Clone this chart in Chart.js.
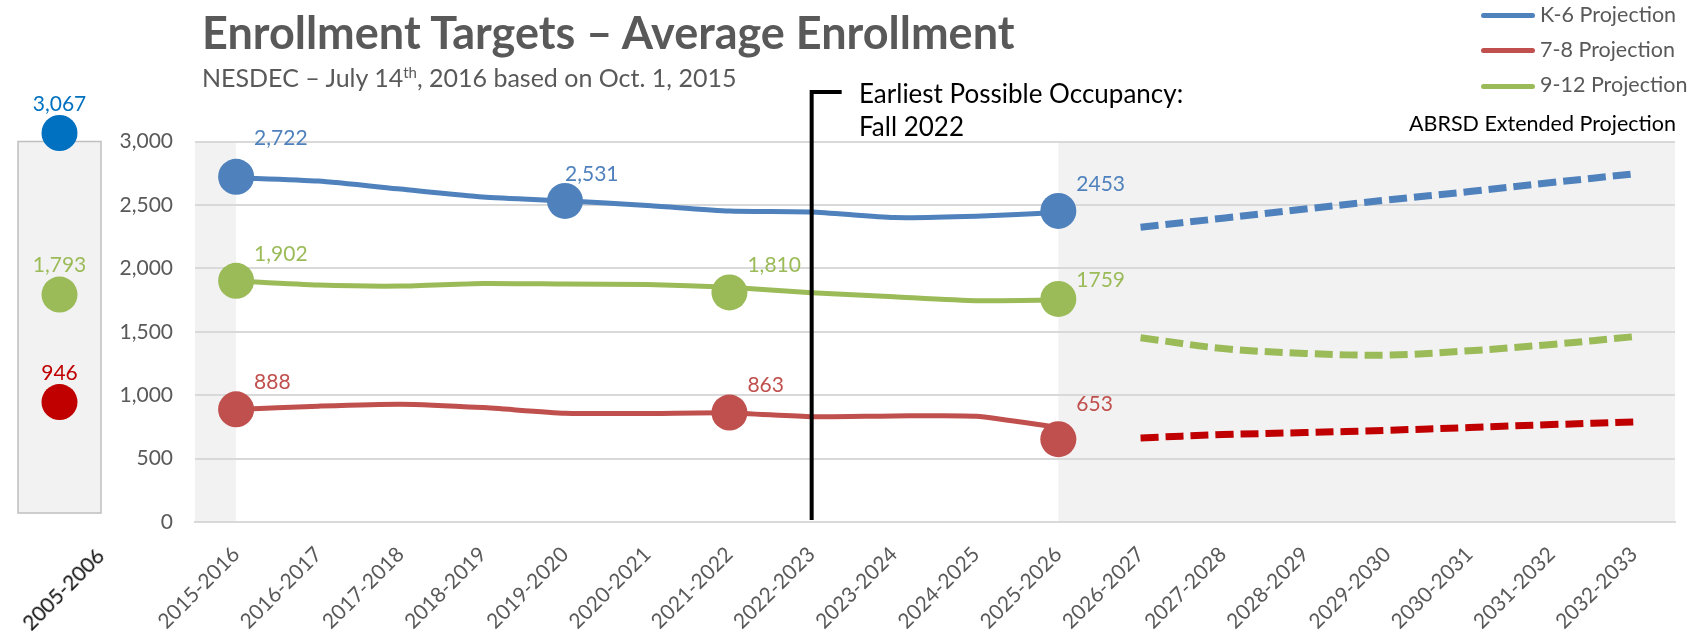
<!DOCTYPE html>
<html>
<head>
<meta charset="utf-8">
<script src="https://cdn.jsdelivr.net/npm/chart.js@4.4.0/dist/chart.umd.min.js"></script>
<style>
  html, body { margin: 0; padding: 0; background: #fff; width: 1695px; height: 634px; overflow: hidden; }
  body { position: relative; font-family: Lato, "Open Sans", sans-serif; }
  canvas { position: absolute; left: 0; top: 0; }
  #side { z-index: 2; }
  .txt { position: absolute; white-space: nowrap; line-height: 1; }
  .title { left: 202px; top: 10px; font-size: 45px; font-weight: bold; color: #595959; }
  .subtitle { left: 202px; top: 65px; font-size: 25px; color: #595959; }
  .subtitle sup { font-size: 15px; vertical-align: 9px; line-height: 0; }
  .legend { font-size: 21.5px; color: #595959; left: 1540px; }
  .swatch { position: absolute; left: 1481px; width: 54px; height: 5px; border-radius: 3px; }
  .ext { font-size: 21.5px; color: #000; right: 19px; top: 113px; }
  .note { left: 859px; font-size: 26px; color: #000; }
  .yr05 { right: 1603px; top: 544px; font-size: 21px; color: #111;
          transform-origin: 100% 0; transform: rotate(-45deg); z-index: 3; }
</style>
</head>
<body>
<canvas id="main" width="1695" height="634"></canvas>
<canvas id="side" width="120" height="634"></canvas>

<div class="txt title">Enrollment Targets – Average Enrollment</div>
<div class="txt subtitle">NESDEC – July 14<sup>th</sup>, 2016 based on Oct. 1, 2015</div>

<div class="swatch" style="top:13px;background:#4F81BD"></div>
<div class="txt legend" style="top:4px">K-6 Projection</div>
<div class="swatch" style="top:48px;background:#C0504D"></div>
<div class="txt legend" style="top:39px">7-8 Projection</div>
<div class="swatch" style="top:84px;background:#9BBB59"></div>
<div class="txt legend" style="top:74px">9-12 Projection</div>
<div class="txt ext">ABRSD Extended Projection</div>

<div class="txt note" style="top:80px">Earliest Possible Occupancy:</div>
<div class="txt note" style="top:113px">Fall 2022</div>

<div class="txt yr05" id="sideYear"></div>

<script>
// School years on the category axis
const years = ['2015-2016','2016-2017','2017-2018','2018-2019','2019-2020','2020-2021',
               '2021-2022','2022-2023','2023-2024','2024-2025','2025-2026','2026-2027',
               '2027-2028','2028-2029','2029-2030','2030-2031','2031-2032','2032-2033'];
const yTicks = [0, 500, 1000, 1500, 2000, 2500, 3000];
const occupancyYear = '2022-2023';

// NESDEC projections (solid lines)
const k6Projection   = [2715, 2688, 2625, 2563, 2532, 2496, 2452, 2444, 2400, 2410, 2440,
                        null, null, null, null, null, null, null];
const g78Projection  = [887, 913, 929, 902, 858, 855, 860, 830, 836, 834, 745,
                        null, null, null, null, null, null, null];
const g912Projection = [1900, 1868, 1860, 1881, 1876, 1873, 1850, 1808, 1776, 1745, 1750,
                        null, null, null, null, null, null, null];

// ABRSD extended projections (dashed lines)
const k6Extended   = [null, null, null, null, null, null, null, null, null, null, null,
                      2324, 2395, 2468, 2539, 2605, 2676, 2745];
const g78Extended  = [null, null, null, null, null, null, null, null, null, null, null,
                      663, 689, 705, 723, 745, 768, 789];
const g912Extended = [null, null, null, null, null, null, null, null, null, null, null,
                      1453, 1368, 1329, 1316, 1350, 1400, 1461];

// Highlighted enrollment values
const k6Points   = [2722, null, null, null, 2531, null, null, null, null, null, 2453,
                    null, null, null, null, null, null, null];
const g78Points  = [888, null, null, null, null, null, 863, null, null, null, 653,
                    null, null, null, null, null, null, null];
const g912Points = [1902, null, null, null, null, null, 1810, null, null, null, 1759,
                    null, null, null, null, null, null, null];

// 2005-2006 reference year
const sideYears = ['2005-2006'];
const sideK6   = [3067];
const sideG912 = [1793];
const sideG78  = [946];

const BLUE = '#4F81BD', RED = '#C0504D', GREEN = '#9BBB59', DARKRED = '#C00000';
const FONT = 'Lato, "Open Sans", sans-serif';
const GRID = '#D9D9D9', SHADE = '#F2F2F2';
const lastHistIdx = 10;

Chart.defaults.font.family = FONT;
document.getElementById('sideYear').textContent = sideYears[0];

function fmt(v, i) {
  return i === lastHistIdx ? String(v) : v.toLocaleString('en-US');
}

// value-label placement relative to each marker: [dx, dy] per index
function pointSet(data, color, nudge) {
  return { data, showLine: false, pointRadius: 18, pointHoverRadius: 18,
           pointBackgroundColor: color, pointBorderWidth: 0, borderColor: color,
           backgroundColor: color, clip: false, valueLabels: true, labelNudge: nudge || {} };
}
function lineSet(data, color) {
  return { data, borderColor: color, borderWidth: 5, pointRadius: 0,
           tension: 0.2, borderCapStyle: 'round', borderJoinStyle: 'round', fill: false };
}
function dashSet(data, color) {
  return { data, borderColor: color, borderWidth: 7, pointRadius: 0,
           tension: 0.35, borderDash: [18, 7], fill: false };
}

// shaded regions, occupancy marker and point values
const mainDecor = {
  id: 'mainDecor',
  beforeDraw(chart) {
    const { ctx, chartArea: a, scales: { x } } = chart;
    ctx.save();
    ctx.fillStyle = SHADE;
    const first = x.getPixelForValue(0);
    ctx.fillRect(a.left, a.top, first - a.left, a.bottom - a.top);
    const last = x.getPixelForValue(lastHistIdx);
    ctx.fillRect(last, a.top, a.right - last, a.bottom - a.top);
    ctx.restore();
  },
  afterDatasetsDraw(chart) {
    const { ctx, chartArea: a, scales: { x } } = chart;
    ctx.save();
    // occupancy line
    const ox = x.getPixelForValue(years.indexOf(occupancyYear));
    ctx.strokeStyle = '#000';
    ctx.lineWidth = 4;
    ctx.beginPath();
    ctx.moveTo(ox + 30, 92);
    ctx.lineTo(ox, 92);
    ctx.lineTo(ox, a.bottom - 2);
    ctx.stroke();
    // point values
    ctx.font = '21px ' + FONT;
    ctx.textAlign = 'left';
    ctx.textBaseline = 'middle';
    chart.data.datasets.forEach((ds, di) => {
      if (!ds.valueLabels) return;
      const meta = chart.getDatasetMeta(di);
      ds.data.forEach((v, i) => {
        if (v == null) return;
        const p = meta.data[i];
        const [dx, dy] = ds.labelNudge[i] || [0, 0];
        ctx.fillStyle = ds.pointBackgroundColor;
        ctx.fillText(fmt(v, i), p.x + 18 + dx, p.y - 27 + dy);
      });
    });
    ctx.restore();
  }
};

new Chart(document.getElementById('main'), {
  type: 'line',
  data: {
    labels: years,
    datasets: [
      pointSet(k6Points, BLUE, { 0: [0, -12], 4: [-18, 0] }),
      pointSet(g912Points, GREEN, { 10: [0, 8] }),
      pointSet(g78Points, RED, { 10: [0, -8] }),
      lineSet(k6Projection, BLUE),
      lineSet(g912Projection, GREEN),
      lineSet(g78Projection, RED),
      dashSet(k6Extended, BLUE),
      dashSet(g912Extended, GREEN),
      dashSet(g78Extended, DARKRED)
    ]
  },
  options: {
    responsive: false,
    animation: false,
    events: [],
    spanGaps: false,
    layout: { padding: { top: 141.5, right: 20, left: 0, bottom: 0 } },
    plugins: { legend: { display: false }, tooltip: { enabled: false } },
    scales: {
      x: {
        offset: true,
        grid: { display: false },
        border: { display: true, color: GRID, width: 2 },
        ticks: { autoSkip: false, minRotation: 45, maxRotation: 45, padding: 12,
                 color: '#595959', font: { size: 21, family: FONT } },
        afterFit(s) { s.height = 112; }
      },
      y: {
        min: 0, max: 3000,
        afterBuildTicks(s) { s.ticks = yTicks.map(v => ({ value: v })); },
        grid: { color: GRID, lineWidth: 2, drawTicks: false },
        border: { display: false },
        ticks: { padding: 22, color: '#595959', font: { size: 21, family: FONT },
                 callback: v => v.toLocaleString('en-US') },
        afterFit(s) { s.width = 195; }
      }
    }
  },
  plugins: [mainDecor]
});

// 2005-2006 panel
const sideDecor = {
  id: 'sideDecor',
  beforeDraw(chart) {
    const { ctx, chartArea: a } = chart;
    ctx.save();
    ctx.fillStyle = SHADE;
    ctx.strokeStyle = '#BFBFBF';
    ctx.lineWidth = 1.5;
    ctx.fillRect(a.left, a.top, a.right - a.left, a.bottom - a.top - 9);
    ctx.strokeRect(a.left, a.top, a.right - a.left, a.bottom - a.top - 9);
    ctx.restore();
  },
  afterDatasetsDraw(chart) {
    const { ctx } = chart;
    ctx.save();
    ctx.font = '21px ' + FONT;
    ctx.textAlign = 'center';
    ctx.textBaseline = 'middle';
    chart.data.datasets.forEach((ds, di) => {
      const meta = chart.getDatasetMeta(di);
      ds.data.forEach((v, i) => {
        const p = meta.data[i];
        ctx.fillStyle = ds.pointBackgroundColor;
        ctx.fillText(v.toLocaleString('en-US'), p.x, p.y - 29);
      });
    });
    ctx.restore();
  }
};

function sidePoints(data, color) {
  return { data, showLine: false, pointRadius: 18, pointBackgroundColor: color,
           pointBorderWidth: 0, borderColor: color, backgroundColor: color, clip: false };
}

new Chart(document.getElementById('side'), {
  type: 'line',
  data: {
    labels: sideYears,
    datasets: [
      sidePoints(sideK6, '#0070C0'),
      sidePoints(sideG912, GREEN),
      sidePoints(sideG78, DARKRED)
    ]
  },
  options: {
    responsive: false,
    animation: false,
    events: [],
    layout: { padding: { top: 141.5, right: 19, left: 10, bottom: 0 } },
    plugins: { legend: { display: false }, tooltip: { enabled: false } },
    scales: {
      x: { offset: true, grid: { display: false }, border: { display: false },
           ticks: { display: false }, afterFit(s) { s.height = 112; } },
      y: { display: false, min: 0, max: 3000 }
    }
  },
  plugins: [sideDecor]
});
</script>
</body>
</html>
